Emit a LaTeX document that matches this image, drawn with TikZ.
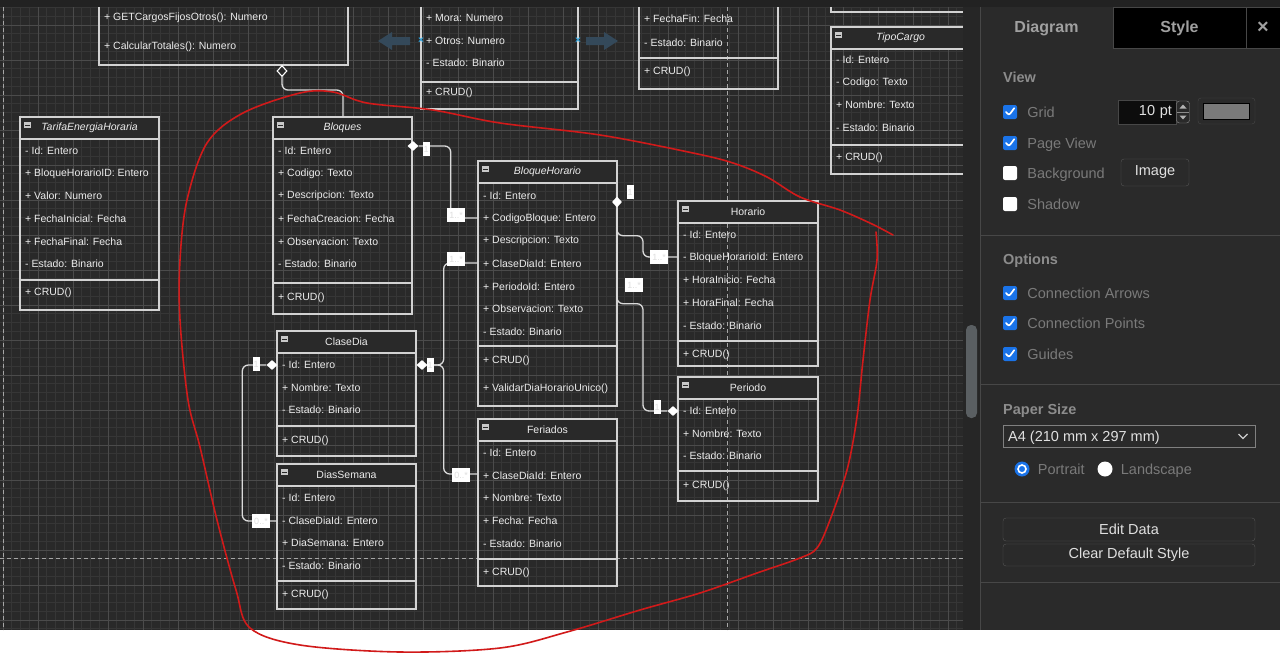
\documentclass[tikz,border=0pt]{standalone}
\usepackage{fontspec}
\setmainfont{Liberation Sans}
\usetikzlibrary{shapes.geometric, positioning}

\definecolor{cvbg}{HTML}{292929}
\definecolor{topbar}{HTML}{222222}
\definecolor{gridlo}{HTML}{363636}
\definecolor{gridhi}{HTML}{4B4B4B}
\definecolor{umlline}{HTML}{D2D2D2}
\definecolor{umltext}{HTML}{ECECEC}
\definecolor{connline}{HTML}{DADADA}
\definecolor{iconfill}{HTML}{C8C8C8}
\definecolor{hoverblue}{HTML}{34495A}
\definecolor{xblue}{HTML}{2CA0DA}
\definecolor{sketchred}{HTML}{D11A1A}
\definecolor{panelbg}{HTML}{2A2A2A}
\definecolor{trackbg}{HTML}{262626}
\definecolor{scrollc}{HTML}{5A5F62}
\definecolor{panelsep}{HTML}{474747}
\definecolor{tabtext}{HTML}{A0A0A0}
\definecolor{panelhead}{HTML}{8C8C8C}
\definecolor{paneltext}{HTML}{7A7A7A}
\definecolor{btnline}{HTML}{555555}
\definecolor{btntext}{HTML}{E0E0E0}
\definecolor{chkblue}{HTML}{1A73E8}
\definecolor{swatchgray}{HTML}{7A7A7A}

\newcommand{\umlfont}{\fontsize{10.5}{12}\selectfont}
\newcommand{\panelfont}{\fontsize{14.5}{16}\selectfont}

\tikzset{
  minorline/.style={draw=gridlo, line width=0.6pt},
  majorline/.style={draw=gridhi, line width=0.8pt},
  pageline/.style={draw=white!65!black, line width=1pt, dash pattern=on 4pt off 3pt},
  classframe/.style={draw=umlline, line width=1.2pt, anchor=north west, inner sep=0pt, outer sep=0pt},
  classhead/.style={classframe, fill=cvbg, minimum height=22pt, text=umltext, font=\umlfont},
  sepline/.style={draw=umlline, line width=1.2pt},
  attr/.style={anchor=west, inner sep=0pt, text=umltext, font=\umlfont},
  collapse/.style={rectangle, fill=iconfill, minimum width=7pt, minimum height=6.5pt, inner sep=0pt,
    path picture={\draw[cvbg, line width=1pt] ([xshift=1.2pt]path picture bounding box.west) -- ([xshift=-1.2pt]path picture bounding box.east);}},
  conn/.style={draw=connline, line width=1.3pt, rounded corners=6pt},
  compdia/.style={diamond, fill=white, inner sep=0pt, minimum width=11pt, minimum height=10pt},
  aggdia/.style={diamond, draw=white, fill=cvbg, line width=1.1pt, inner sep=0pt, minimum width=10pt, minimum height=11pt},
  mult/.style={fill=white, inner sep=0pt, minimum height=14pt, text=white!87!black, font=\fontsize{9}{9}\selectfont},
  sketch/.style={draw=sketchred, line width=1.6pt, line cap=round, line join=round},
  tabcell/.style={minimum width=133pt, minimum height=41pt, inner sep=0pt, text=tabtext, font=\fontsize{16}{16}\selectfont\bfseries},
  phead/.style={anchor=west, inner sep=0pt, text height=12pt, text depth=2pt, text=panelhead, font=\panelfont\bfseries},
  plabel/.style={anchor=west, inner sep=0pt, text height=12pt, text depth=2pt, text=paneltext, font=\panelfont},
  chkon/.style={rectangle, rounded corners=2pt, fill=chkblue, minimum size=14pt, inner sep=0pt,
    path picture={\draw[white, line width=1.7pt, line cap=round, line join=round]
      ([shift={(-4pt,0pt)}]path picture bounding box.center) -- ([shift={(-1pt,-3.2pt)}]path picture bounding box.center) -- ([shift={(4.2pt,3.8pt)}]path picture bounding box.center);}},
  chkoff/.style={rectangle, rounded corners=2pt, fill=white, minimum size=14pt, inner sep=0pt},
  pbutton/.style={draw=btnline, rounded corners=3pt, inner sep=0pt, text=btntext, font=\panelfont}
}

\begin{document}
\begin{tikzpicture}[x=1pt,y=-1pt]
\useasboundingbox (0,0) rectangle (1280,653);
\fill[white] (0,0) rectangle (1280,653);
\fill[topbar] (0,0) rectangle (1280,7);

\begin{scope}
\clip (0,7) rectangle (963,630);
\fill[cvbg] (0,7) rectangle (963,630);
% Grid
\foreach \i in {0,...,109} {
    \draw[minorline] (3+8.75*\i,7) -- (3+8.75*\i,630);
}
\foreach \j in {0,...,71} {
    \draw[minorline] (0,7.5+8.75*\j) -- (963,7.5+8.75*\j);
}
\foreach \i in {0,...,27} {
    \draw[majorline] (3+35*\i,7) -- (3+35*\i,630);
}
\foreach \j in {0,...,17} {
    \draw[majorline] (0,25+35*\j) -- (963,25+35*\j);
}
% Page breaks
\draw[pageline] (3,7) -- (3,630);
\draw[pageline] (727,7) -- (727,630);
\draw[pageline] (0,558) -- (963,558);

% Classes cut by the top edge
\node[classframe, minimum width=249pt, minimum height=95pt] (cargos) at (99,-30) {};
\node[classframe, minimum width=157pt, minimum height=139pt] (mora) at (421,-30) {};
\node[classframe, minimum width=139pt, minimum height=119pt] (fechafin) at (639,-30) {};
\node[classframe, minimum width=139pt, minimum height=42pt] (above-tipo) at (831,-30) {};
\node[attr] (cargos-0) at (104,18) {+ GETCargosFijosOtros(): Numero};
\node[attr] (cargos-1) at (104,47) {+ CalcularTotales(): Numero};
\foreach \t [count=\i from 0] in {+ Mora: Numero, + Otros: Numero, - Estado: Binario} {
    \node[attr] (mora-\i) at (426,18+22.6*\i) {\t};
}
\node[attr] (mora-m) at (426,93) {+ CRUD()};
\node[attr] (fechafin-0) at (644,19) {+ FechaFin: Fecha};
\node[attr] (fechafin-1) at (644,43) {- Estado: Binario};
\node[attr] (fechafin-m) at (644,72) {+ CRUD()};

% Classes
\foreach \n/\x/\y/\w/\h/\t in {tarifa/20/117/139/193/\textit{TarifaEnergiaHoraria},
    bloq/273/117/139/197/\textit{Bloques}, bh/478/161/139/245/\textit{BloqueHorario},
    hor/678/201/140/165/Horario, per/678/377/140/124/Periodo, cd/277/331/139/125/ClaseDia,
    ds/277/464/139/145/DiasSemana, fer/478/419/139/167/Feriados, tipo/831/27/139/147/\textit{TipoCargo}} {
    \node[classframe, minimum width=\w pt, minimum height=\h pt] (\n) at (\x,\y) {};
    \node[classhead, minimum width=\w pt] (\n-h) at (\x,\y) {\t};
    \node[collapse] (\n-i) at (\x+7.5,\y+8) {};
}
\foreach \x/\y/\w in {20/280/139, 273/283/139, 478/346/139, 678/341/140, 678/471/140,
    277/426/139, 277/581/139, 478/559/139, 831/145/139, 421/82/157, 639/58/139} {
    \draw[sepline] (\x,\y) -- ++(\w,0);
}

% Attributes and methods
\foreach \t [count=\i from 0] in {- Id: Entero, + BloqueHorarioID: Entero, + Valor: Numero,
    + FechaInicial: Fecha, + FechaFinal: Fecha, - Estado: Binario} {
    \node[attr] (tarifa-\i) at (25,151+22.6*\i) {\t};
}
\node[attr] (tarifa-m) at (25,293) {+ CRUD()};
\foreach \t [count=\i from 0] in {- Id: Entero, + Codigo: Texto, + Descripcion: Texto,
    + FechaCreacion: Fecha, + Observacion: Texto, - Estado: Binario} {
    \node[attr] (bloq-\i) at (278,151+22.6*\i) {\t};
}
\node[attr] (bloq-m) at (278,298) {+ CRUD()};
\foreach \t [count=\i from 0] in {- Id: Entero, + CodigoBloque: Entero, + Descripcion: Texto,
    + ClaseDiaId: Entero, + PeriodoId: Entero, + Observacion: Texto, - Estado: Binario} {
    \node[attr] (bh-\i) at (483,196+22.6*\i) {\t};
}
\node[attr] (bh-m1) at (483,361) {+ CRUD()};
\node[attr] (bh-m2) at (483,389) {+ ValidarDiaHorarioUnico()};
\foreach \t [count=\i from 0] in {- Id: Entero, - BloqueHorarioId: Entero, + HoraInicio: Fecha,
    + HoraFinal: Fecha, - Estado: Binario} {
    \node[attr] (hor-\i) at (683,235+22.6*\i) {\t};
}
\node[attr] (hor-m) at (683,355) {+ CRUD()};
\foreach \t [count=\i from 0] in {- Id: Entero, + Nombre: Texto, - Estado: Binario} {
    \node[attr] (per-\i) at (683,411+22.6*\i) {\t};
}
\node[attr] (per-m) at (683,486) {+ CRUD()};
\foreach \t [count=\i from 0] in {- Id: Entero, + Nombre: Texto, - Estado: Binario} {
    \node[attr] (cd-\i) at (282,365+22.6*\i) {\t};
}
\node[attr] (cd-m) at (282,441) {+ CRUD()};
\foreach \t [count=\i from 0] in {- Id: Entero, - ClaseDiaId: Entero, + DiaSemana: Entero,
    - Estado: Binario} {
    \node[attr] (ds-\i) at (282,498+22.6*\i) {\t};
}
\node[attr] (ds-m) at (282,595) {+ CRUD()};
\foreach \t [count=\i from 0] in {- Id: Entero, + ClaseDiaId: Entero, + Nombre: Texto,
    + Fecha: Fecha, - Estado: Binario} {
    \node[attr] (fer-\i) at (483,453+22.6*\i) {\t};
}
\node[attr] (fer-m) at (483,573) {+ CRUD()};
\foreach \t [count=\i from 0] in {- Id: Entero, - Codigo: Texto, + Nombre: Texto, - Estado: Binario} {
    \node[attr] (tipo-\i) at (836,60+22.6*\i) {\t};
}
\node[attr] (tipo-m) at (836,158) {+ CRUD()};

% Hover arrows
\fill[hoverblue] (378,41) -- (392,32) -- (392,37) -- (410,37) -- (410,45) -- (392,45) -- (392,50) -- cycle;
\fill[hoverblue] (618,41) -- (604,32) -- (604,37) -- (586,37) -- (586,45) -- (604,45) -- (604,50) -- cycle;
\node[text=xblue, inner sep=0pt, font=\fontsize{10}{10}\selectfont\bfseries] (mora-xl) at (421,41) {×};
\node[text=xblue, inner sep=0pt, font=\fontsize{10}{10}\selectfont\bfseries] (mora-xr) at (578,41) {×};

% Connections
\node[compdia] (bloq-d) at (413,146) {};
\node[compdia, minimum width=10pt, minimum height=11pt] (bh-d) at (617,202) {};
\node[compdia] (per-d) at (673,411) {};
\node[compdia] (cd-dr) at (422,365) {};
\node[compdia] (cd-dl) at (272,365) {};
\node[aggdia] (cargos-d) at (282,71) {};
\coordinate (bh-w1) at (478,218);
\coordinate (bh-w2) at (478,263);
\coordinate (hor-w) at (678,257);
\coordinate (fer-w) at (478,474);
\coordinate (ds-w) at (277,521);
\coordinate (bloq-n) at (343,117);
\draw[conn] (bloq-d.east) -- ++(32,0) |- (bh-w1);
\draw[conn] (bh-d.south) -- ++(0,28) -- ++(26,0) |- (hor-w);
\draw[conn] (bh-d.south) -- ++(0,96) -- ++(26,0) |- (per-d.west);
\draw[conn] (cd-dr.east) -- ++(16,0) |- (bh-w2);
\draw[conn] (cd-dr.east) -- ++(16,0) |- (fer-w);
\draw[conn] (cd-dl.west) -- ++(-24,0) |- (ds-w);
\draw[conn] (cargos-d.south) -- ++(0,13) -| (bloq-n);
% Multiplicities
\node[mult, minimum width=7pt] (bloq-m1) at (426,149) {1};
\node[mult, minimum width=18pt] (bh-l1) at (456,215) {1..*};
\node[mult, minimum width=7pt] (bh-l2) at (630,192) {1};
\node[mult, minimum width=18pt] (hor-l) at (659,257) {1..*};
\node[mult, minimum width=18pt] (bh-l3) at (634,285) {1..*};
\node[mult, minimum width=7pt] (per-l) at (657,407) {1};
\node[mult, minimum width=7pt] (cd-l1) at (430,365) {1};
\node[mult, minimum width=18pt] (bh-l4) at (456,259) {1..*};
\node[mult, minimum width=18pt] (fer-l) at (461,475) {0..*};
\node[mult, minimum width=7pt] (cd-l2) at (256,364) {1};
\node[mult, minimum width=18pt] (ds-l) at (261,521) {0..*};
\end{scope}

% Freehand loop
\draw[sketch] plot[smooth, tension=0.55] coordinates {(893,235) (872,224) (840,210) (800,197)
    (767,177) (733,163) (693,153) (600,135) (500,123) (433,110) (367,103) (333,92) (300,93)
    (243,113) (207,143) (187,200) (180,260) (180,320) (188,400) (200,447) (217,520) (236,590)
    (250,628) (300,645) (400,652) (500,648) (567,632) (640,610) (700,593) (757,573) (800,558)
    (817,548) (830,520) (847,470) (857,417) (863,360) (870,300) (877,260) (876,232)};

% Side panel
\fill[trackbg] (963,7) rectangle (980,630);
\fill[scrollc, rounded corners=5pt] (966,325) rectangle (977,418);
\fill[panelbg] (980,7) rectangle (1280,630);
\draw[panelsep] (980,7) -- (980,630);
\node[tabcell] (tab-diagram) at (1046.5,28) {Diagram};
\node[tabcell, fill=black, draw=panelsep] (tab-style) at (1179.5,28) {Style};
\node[tabcell, fill=black, draw=panelsep, minimum width=34pt, font=\fontsize{20}{20}\selectfont\bfseries] (tab-close) at (1263,28) {×};
\foreach \y in {235,384,502,582} {
    \draw[panelsep] (980,\y) -- (1280,\y);
}
\node[phead] (hd-view) at (1003,77) {View};
\node[phead] (hd-options) at (1003,259) {Options};
\node[phead] (hd-paper) at (1003,409) {Paper Size};
\foreach \n/\y/\s/\t in {grid/112/chkon/Grid, page/143/chkon/Page View, bg/173/chkoff/Background,
    shadow/204/chkoff/Shadow, arrows/293/chkon/Connection Arrows,
    points/323/chkon/Connection Points, guides/354/chkon/Guides} {
    \node[\s] (chk-\n) at (1010,\y) {};
    \node[plabel, right=10pt of chk-\n] (lb-\n) {\t};
}
% Grid size and colour
\node[draw=panelsep, fill=black!70!panelbg, text width=50pt, align=right, inner xsep=4pt,
    minimum height=24pt, inner ysep=0pt, text=btntext, font=\panelfont] (grid-size) at (1147,112) {10 pt};
\node[draw=white!55!black, rounded corners=3pt, minimum width=13pt, minimum height=22pt, inner sep=0pt] (grid-spin) at (1183,112) {};
\fill[white!70!black] (1179.5,108.5) -- (1186.5,108.5) -- (1183,104.5) -- cycle;
\fill[white!70!black] (1179.5,115.5) -- (1186.5,115.5) -- (1183,119.5) -- cycle;
\draw[white!55!black] (1177,112) -- (1189,112);
\node[draw=panelsep, rounded corners=3pt, minimum width=57pt, minimum height=26pt, inner sep=0pt] (grid-color) at (1226.5,111) {};
\node[draw=black, fill=swatchgray, minimum width=46pt, minimum height=16pt, inner sep=0pt] (grid-color-in) at (grid-color) {};
\node[pbutton, minimum width=68pt, minimum height=27pt] (btn-image) at (1155,172.5) {Image};
% Paper size
\node[draw=white!50!black, minimum width=252pt, minimum height=22pt, inner sep=0pt] (paper) at (1129,436.5) {};
\node[anchor=west, inner sep=0pt, text height=12pt, text depth=2pt, text=btntext, font=\panelfont] (paper-t) at (1008,436.5) {A4 (210 mm x 297 mm)};
\draw[white!80!black, line width=1.2pt] (1238.5,434) -- (1243,438.5) -- (1247.5,434);
\node[circle, fill=chkblue, minimum size=15pt, inner sep=0pt] (rad-p) at (1022,469) {};
\node[circle, draw=white, line width=1.6pt, fill=chkblue, minimum size=8pt, inner sep=0pt] (rad-p-in) at (rad-p) {};
\node[plabel, right=8pt of rad-p] (lb-portrait) {Portrait};
\node[circle, fill=white, minimum size=15pt, inner sep=0pt] (rad-l) at (1105,469) {};
\node[plabel, right=8pt of rad-l] (lb-landscape) {Landscape};
% Buttons
\node[pbutton, minimum width=252pt, minimum height=23pt] (btn-edit) at (1129,529.5) {Edit Data};
\node[pbutton, minimum width=252pt, minimum height=22pt] (btn-clear) at (1129,555) {Clear Default Style};
\end{tikzpicture}
\end{document}
